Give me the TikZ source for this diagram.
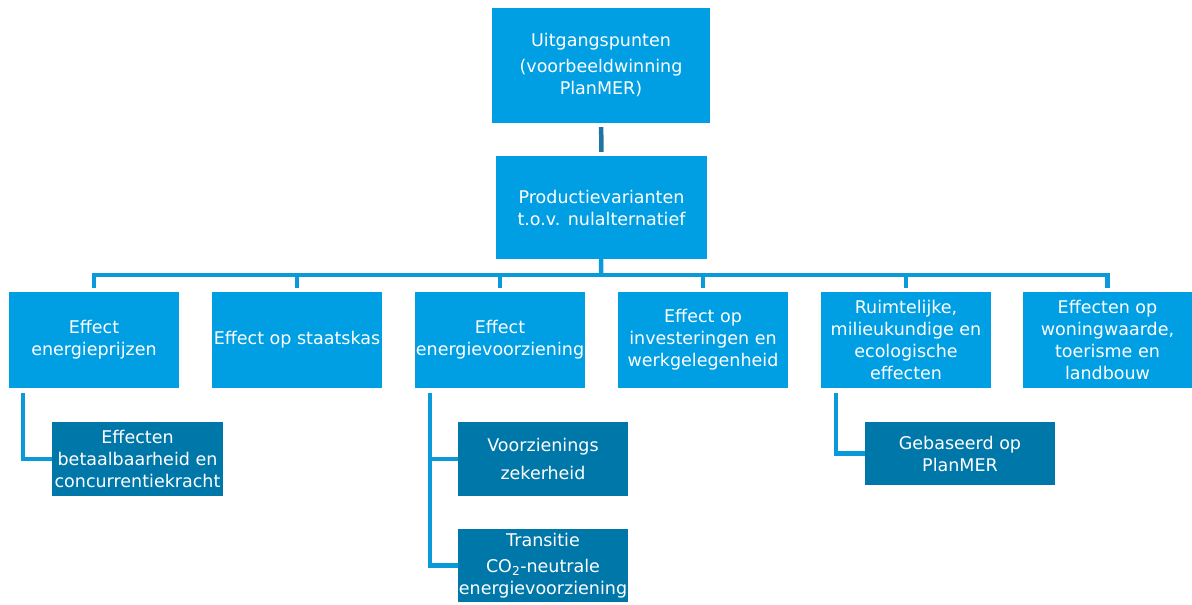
\documentclass[tikz,border=0pt]{standalone}
\usepackage{fontspec}
\setmainfont{DejaVu Sans}
\usepackage{tikz}

\definecolor{licht}{HTML}{009FE3}
\definecolor{donker}{HTML}{0077A9}
\definecolor{lijnlicht}{HTML}{0A9AD9}
\definecolor{lijndonker}{HTML}{1F74A3}

\tikzset{
  hoofd/.style={shape=rectangle,fill=licht,text=white,align=center,inner sep=0pt,
    font=\fontsize{17.5}{22}\selectfont},
  sub/.style={shape=rectangle,fill=donker,text=white,align=center,inner sep=0pt,
    font=\fontsize{17.5}{22}\selectfont},
  lijn/.style={draw=lijnlicht,line width=4.5pt},
}

\begin{document}
\begin{tikzpicture}[x=1pt,y=-1pt]
\useasboundingbox (0,0) rectangle (1192,605);

\node[hoofd,minimum width=218pt,minimum height=115pt] (U) at (601,65.5) {Uitgangspunten\\[4pt](voorbeeldwinning\\PlanMER)};
\node[hoofd,minimum width=211pt,minimum height=103pt] (P) at (601.5,207.5) {Productievarianten\\t.o.v. nulalternatief};

\node[hoofd,minimum width=170pt,minimum height=96pt] (E1) at (94,340) {Effect\\energieprijzen};
\node[hoofd,minimum width=170pt,minimum height=96pt] (E2) at (297,340) {Effect op staatskas};
\node[hoofd,minimum width=170pt,minimum height=96pt] (E3) at (500,340) {Effect\\energievoorziening};
\node[hoofd,minimum width=170pt,minimum height=96pt] (E4) at (703,340) {Effect op\\investeringen en\\werkgelegenheid};
\node[hoofd,minimum width=170pt,minimum height=96pt] (E5) at (906,340) {Ruimtelijke,\\milieukundige en\\ecologische\\effecten};
\node[hoofd,minimum width=170pt,minimum height=96pt] (E6) at (1107.5,340) {Effecten op\\woningwaarde,\\toerisme en\\landbouw};

\node[sub,minimum width=171pt,minimum height=74pt] (C1) at (137.5,459) {Effecten\\betaalbaarheid en\\concurrentiekracht};
\node[sub,minimum width=170pt,minimum height=74pt] (V) at (543,459) {Voorzienings\\[6pt]zekerheid};
\node[sub,minimum width=170pt,minimum height=73pt] (T) at (543,565.5) {Transitie\\[4pt]CO\textsubscript{2}-neutrale\\energievoorziening};
\node[sub,minimum width=190pt,minimum height=63pt] (G) at (960,453.5) {Gebaseerd op\\PlanMER};

\coordinate (bar) at (601,275);
\coordinate (k1) at (23,393);
\coordinate (k3) at (430,393);
\coordinate (k5) at (836,393);

% boom
\draw[lijn,draw=lijndonker,shorten <=4pt,shorten >=4pt] (U) -- (P);
\draw[lijn] (P) -- (bar);
\foreach \e in {E1,E2,E3,E4,E5,E6}
  \draw[lijn,shorten >=4pt] (bar) -| (\e.north);

% takken
\draw[lijn] (k1) |- (C1.west);
\draw[lijn] (k3) |- (V.west);
\draw[lijn] (k3) |- (T.west);
\draw[lijn] (k5) |- (G.west);

\end{tikzpicture}
\end{document}
